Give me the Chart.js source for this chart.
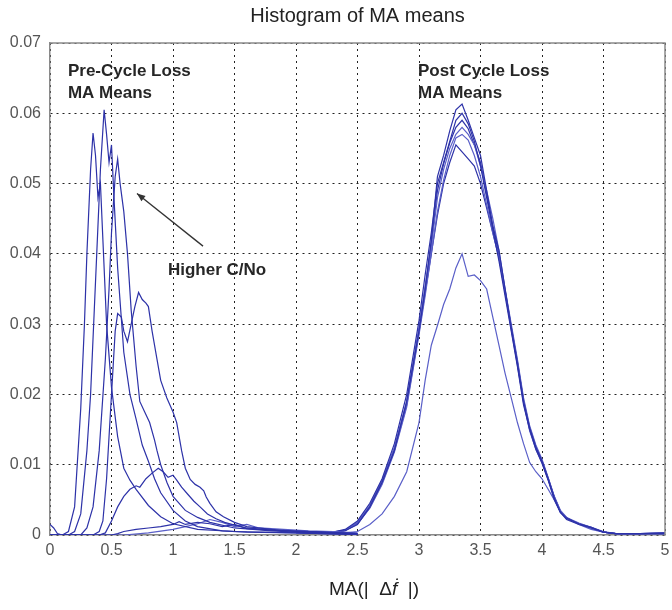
<!DOCTYPE html>
<html><head><meta charset="utf-8">
<script src="https://cdn.jsdelivr.net/npm/chart.js@4/dist/chart.umd.min.js"></script>
<style>html,body{margin:0;padding:0;background:#fff;}</style>
</head><body>
<canvas id="c" width="672" height="610"></canvas>
<script>
// ---------- DATA ----------
const xTickLabels = ['0','0.5','1','1.5','2','2.5','3','3.5','4','4.5','5'];
const yTickLabels = ['0','0.01','0.02','0.03','0.04','0.05','0.06','0.07'];

// Pre-cycle-loss MA means (left group)
const pre1X = [0,0.1,0.15,0.2,0.25,0.28,0.3,0.33,0.35,0.37,0.39,0.41,0.43,0.46,0.5,0.55,0.6,0.65,0.7,0.8,0.9,1.0,1.2,1.5,2.0,2.5];
const pre1Y = [0,0,0.0005,0.004,0.018,0.03,0.04,0.052,0.0572,0.054,0.048,0.05,0.042,0.03,0.021,0.014,0.0095,0.0078,0.0065,0.0042,0.0026,0.0016,0.0008,0.0005,0.0003,0.0001];
const pre2X = [0,0.15,0.2,0.25,0.3,0.33,0.36,0.38,0.41,0.44,0.46,0.48,0.5,0.52,0.55,0.6,0.65,0.7,0.75,0.8,0.85,0.9,1.0,1.1,1.2,1.4,1.6,2.0,2.5];
const pre2Y = [0,0,0.0005,0.003,0.012,0.02,0.032,0.04,0.052,0.0605,0.057,0.053,0.0555,0.048,0.038,0.026,0.02,0.0165,0.0128,0.0105,0.008,0.006,0.0035,0.002,0.0012,0.0006,0.0004,0.0003,0.0001];
const pre3X = [0,0.25,0.3,0.35,0.4,0.45,0.48,0.5,0.53,0.55,0.57,0.6,0.63,0.66,0.7,0.73,0.77,0.81,0.85,0.87,0.9,0.95,1.0,1.1,1.2,1.3,1.5,1.8,2.0,2.5];
const pre3Y = [0,0,0.001,0.004,0.012,0.025,0.035,0.043,0.051,0.0535,0.05,0.046,0.04,0.032,0.024,0.019,0.0175,0.016,0.0135,0.012,0.01,0.0075,0.0055,0.0035,0.0025,0.0018,0.001,0.0006,0.0004,0.0001];
const pre4X = [0,0.35,0.4,0.43,0.46,0.5,0.53,0.55,0.58,0.6,0.63,0.66,0.69,0.72,0.75,0.78,0.8,0.83,0.87,0.9,0.95,1.0,1.03,1.07,1.1,1.14,1.18,1.22,1.25,1.27,1.3,1.35,1.41,1.5,1.6,1.8,2.0,2.5];
const pre4Y = [0,0,0.0005,0.002,0.008,0.02,0.029,0.0315,0.031,0.029,0.0275,0.03,0.0325,0.0345,0.0335,0.033,0.0325,0.029,0.025,0.022,0.0195,0.0175,0.016,0.012,0.0095,0.0079,0.0072,0.0068,0.0063,0.0054,0.0045,0.0033,0.0026,0.0018,0.0012,0.0008,0.0005,0.0002];
const pre5X = [0,0.4,0.45,0.5,0.55,0.6,0.65,0.7,0.73,0.78,0.83,0.88,0.92,0.96,1.0,1.03,1.07,1.12,1.17,1.22,1.28,1.35,1.42,1.5,1.6,1.8,2.0,2.2,2.5];
const pre5Y = [0,0,0.0003,0.002,0.004,0.0055,0.0065,0.007,0.0068,0.008,0.0088,0.0095,0.009,0.0082,0.0085,0.0078,0.0068,0.0058,0.0048,0.004,0.003,0.0023,0.0018,0.0014,0.001,0.0007,0.0005,0.0004,0.0002];
const pre6X = [0,0.03,0.06,0.1,0.3,0.5,0.55,0.6,0.7,0.8,0.9,1.0,1.05,1.1,1.2,1.3,1.4,1.5,1.6,1.8,2.0,2.2,2.5];
const pre6Y = [0.0015,0.001,0.0002,0,0,0,0.0002,0.0005,0.0008,0.001,0.0012,0.0015,0.0019,0.0015,0.0018,0.0016,0.0012,0.0015,0.0009,0.0007,0.0006,0.0004,0.0002];
const pre7X = [0,0.6,0.8,1.0,1.1,1.2,1.3,1.4,1.5,1.6,1.7,1.9,2.1,2.3,2.5];
const pre7Y = [0,0,0.0003,0.0008,0.0012,0.0016,0.0022,0.0018,0.0012,0.0015,0.001,0.0008,0.0006,0.0005,0.0003];

// Post-cycle-loss MA means (right group), shared x
const postX = [2.0,2.2,2.3,2.4,2.5,2.6,2.7,2.8,2.9,3.0,3.05,3.1,3.15,3.2,3.25,3.3,3.35,3.4,3.45,3.5,3.55,3.6,3.65,3.7,3.75,3.8,3.85,3.9,3.95,4.0,4.05,4.1,4.15,4.2,4.3,4.4,4.5,4.6,4.8,5.0];
const post1 = [0.0006,0.0004,0.0003,0.0006,0.0015,0.004,0.0075,0.012,0.019,0.029,0.035,0.042,0.051,0.054,0.0575,0.0605,0.0613,0.059,0.0565,0.054,0.049,0.044,0.0405,0.035,0.0295,0.0245,0.019,0.0152,0.0125,0.0105,0.008,0.0053,0.0032,0.0024,0.0016,0.0011,0.0004,0.0002,0.0002,0.0003];
const post2 = [0.0005,0.0004,0.0004,0.0008,0.002,0.0045,0.008,0.013,0.02,0.0305,0.037,0.043,0.05,0.053,0.056,0.059,0.060,0.0585,0.056,0.0525,0.048,0.0435,0.039,0.034,0.029,0.024,0.0185,0.015,0.0122,0.0102,0.0078,0.005,0.0032,0.0022,0.0015,0.001,0.0004,0.0002,0.0002,0.0002];
const post3 = [0.0004,0.0003,0.0003,0.0007,0.0018,0.0042,0.0078,0.0125,0.019,0.0295,0.0355,0.041,0.048,0.052,0.055,0.057,0.058,0.057,0.0555,0.0525,0.049,0.045,0.0405,0.035,0.03,0.025,0.0195,0.0155,0.0128,0.0108,0.0082,0.0055,0.0035,0.0025,0.0017,0.0011,0.0005,0.0002,0.0002,0.0003];
const post4 = [0.0005,0.0004,0.0003,0.0006,0.0016,0.0038,0.0072,0.0118,0.0182,0.0285,0.034,0.04,0.046,0.0505,0.054,0.0565,0.057,0.0562,0.054,0.051,0.047,0.043,0.0395,0.0345,0.0292,0.0242,0.0188,0.0148,0.0122,0.0103,0.0079,0.0052,0.0033,0.0023,0.0016,0.001,0.0004,0.0002,0.0002,0.0002];
const post5 = [0.0004,0.0003,0.0003,0.0007,0.0017,0.004,0.0075,0.0122,0.0188,0.029,0.0345,0.04,0.0455,0.05,0.053,0.0555,0.0545,0.0535,0.0525,0.05,0.0465,0.043,0.0395,0.0345,0.0295,0.0245,0.019,0.015,0.0124,0.0104,0.008,0.0054,0.0034,0.0024,0.0016,0.001,0.0004,0.0002,0.0002,0.0002];
const post6 = [0.0005,0.0003,0.0004,0.0007,0.0016,0.0039,0.0074,0.012,0.0185,0.0288,0.0348,0.0415,0.049,0.0528,0.0558,0.058,0.059,0.0578,0.0555,0.053,0.0485,0.0438,0.04,0.0348,0.0296,0.0247,0.0192,0.0153,0.0126,0.0106,0.0081,0.0054,0.0033,0.0024,0.0016,0.0011,0.0004,0.0002,0.0002,0.0003];
const post7 = [0.0003,0.0002,0.0002,0.0003,0.0005,0.0015,0.003,0.0055,0.009,0.016,0.022,0.027,0.0298,0.0328,0.035,0.038,0.040,0.0368,0.037,0.0362,0.035,0.031,0.027,0.023,0.0195,0.016,0.013,0.0103,0.009,0.008,0.0065,0.005,0.0032,0.0025,0.0015,0.0008,0.0004,0.0002,0.0002,0.0002];

// Annotations (data units)
const annotations = [
  {text:'Pre-Cycle Loss', x:0.146, y:0.066},
  {text:'MA Means', x:0.146, y:0.0629},
  {text:'Post Cycle Loss', x:2.992, y:0.066},
  {text:'MA Means', x:2.992, y:0.0629},
  {text:'Higher C/No', x:0.959, y:0.0376}
];
const arrowFrom = {x:1.244, y:0.0411};
const arrowTo = {x:0.707, y:0.0486};

// ---------- BUILD ----------
const pts = (xs, ys) => xs.map((x, i) => ({x: x, y: ys[i]}));
const dark = '#2d32a8', light = '#5a5fc8';
const series = [
  [pre1X, pre1Y, dark], [pre2X, pre2Y, dark], [pre3X, pre3Y, dark], [pre4X, pre4Y, dark],
  [pre5X, pre5Y, dark], [pre6X, pre6Y, dark], [pre7X, pre7Y, light],
  [postX, post1, dark], [postX, post2, dark], [postX, post3, light], [postX, post4, light],
  [postX, post5, dark], [postX, post6, dark], [postX, post7, light]
];
const datasets = series.map(s => ({
  data: pts(s[0], s[1]), borderColor: s[2], borderWidth: 1.2, pointRadius: 0, tension: 0, fill: false
}));

const annPlugin = {
  id: 'ann',
  afterDatasetsDraw(chart) {
    const {ctx, scales: {x, y}, chartArea: a} = chart;
    ctx.save();
    ctx.strokeStyle = '#8a8a8a'; ctx.lineWidth = 1.5;
    ctx.beginPath(); ctx.moveTo(a.left, a.top); ctx.lineTo(a.right, a.top); ctx.lineTo(a.right, a.bottom); ctx.stroke();
    ctx.fillStyle = '#262626';
    ctx.font = 'bold 17px "Liberation Sans", Arial, sans-serif';
    ctx.textBaseline = 'middle'; ctx.textAlign = 'left';
    annotations.forEach(t => ctx.fillText(t.text, x.getPixelForValue(t.x), y.getPixelForValue(t.y)));
    const x1 = x.getPixelForValue(arrowFrom.x), y1 = y.getPixelForValue(arrowFrom.y);
    const x2 = x.getPixelForValue(arrowTo.x), y2 = y.getPixelForValue(arrowTo.y);
    ctx.strokeStyle = '#333'; ctx.lineWidth = 1.3;
    ctx.beginPath(); ctx.moveTo(x1, y1); ctx.lineTo(x2, y2); ctx.stroke();
    const ang = Math.atan2(y2 - y1, x2 - x1), L = 9, w = 0.38;
    ctx.fillStyle = '#333';
    ctx.beginPath(); ctx.moveTo(x2, y2);
    ctx.lineTo(x2 - L * Math.cos(ang - w), y2 - L * Math.sin(ang - w));
    ctx.lineTo(x2 - L * Math.cos(ang + w), y2 - L * Math.sin(ang + w));
    ctx.closePath(); ctx.fill();
    ctx.fillStyle = '#222';
    ctx.textBaseline = 'middle';
    const parts = [['MA(|  Δ', '19px "Liberation Sans", Arial, sans-serif'], ['\u1E1F', 'italic 19px "Liberation Sans", Arial, sans-serif'], ['  |)', '19px "Liberation Sans", Arial, sans-serif']];
    let total = 0;
    parts.forEach(p => { ctx.font = p[1]; total += ctx.measureText(p[0]).width; });
    let cx = 374 - total / 2;
    parts.forEach(p => { ctx.font = p[1]; ctx.fillText(p[0], cx, 590); cx += ctx.measureText(p[0]).width; });
    ctx.restore();
  }
};

new Chart(document.getElementById('c'), {
  type: 'line',
  data: {datasets},
  options: {
    responsive: false, animation: false,
    layout: {padding: {left: 0, right: 7, top: 0, bottom: 0}},
    plugins: {
      legend: {display: false}, tooltip: {enabled: false},
      title: {display: true, fullSize: false, text: 'Histogram of MA means', color: '#222',
        font: {family: '"Liberation Sans", Arial, sans-serif', size: 20, weight: 'normal'},
        padding: {top: 4, bottom: 15}}
    },
    scales: {
      x: {type: 'linear', min: 0, max: 5,
        afterFit: s => { s.height = 75; s.paddingRight = 2; s.paddingLeft = 0; },
        ticks: {stepSize: 0.5, autoSkip: false, maxRotation: 0, padding: 6, color: '#555',
          font: {family: '"Liberation Sans", Arial, sans-serif', size: 16},
          callback: (v, i) => xTickLabels[i]},
        grid: {color: '#222', lineWidth: 1, tickLength: 0, drawTicks: false},
        border: {display: true, color: '#8a8a8a', width: 1.5, dash: [2, 4]}
      },
      y: {min: 0, max: 0.07,
        afterFit: s => { s.width = 50; },
        ticks: {stepSize: 0.01, padding: 9, color: '#555',
          font: {family: '"Liberation Sans", Arial, sans-serif', size: 16},
          callback: (v, i) => yTickLabels[i]},
        grid: {color: '#222', lineWidth: 1, tickLength: 0, drawTicks: false},
        border: {display: true, color: '#8a8a8a', width: 1.5, dash: [2, 4]}
      }
    }
  },
  plugins: [annPlugin]
});
</script></body></html>
